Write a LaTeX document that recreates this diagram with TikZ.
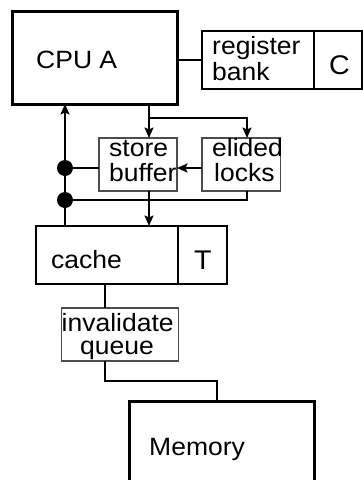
\documentclass[tikz,border=0pt]{standalone}
\usepackage{fontspec}
\setmainfont{Liberation Sans}[FakeStretch=1.06]
\usetikzlibrary{arrows.meta}
\begin{document}
\begin{tikzpicture}[x=1pt,y=-1pt,
  thickbox/.style={draw, line width=3pt, inner sep=0pt, outer sep=0pt},
  midbox/.style={draw, line width=1.8pt, inner sep=0pt, outer sep=0pt},
  thinbox/.style={draw=black!70, line width=1.2pt, inner sep=0pt, outer sep=0pt},
  lbl/.style={anchor=base west, inner sep=0pt, font=\fontsize{25}{25}\selectfont},
  biglbl/.style={lbl, font=\fontsize{27}{27}\selectfont},
  wire/.style={line width=1.8pt},
  arr/.style={wire, -{Stealth[length=10.5pt,width=9pt,inset=2pt]}},
  junction/.style={circle, fill, inner sep=0pt, minimum size=16pt},
]
\useasboundingbox (0,0) rectangle (363,480);

% boxes
\node[thickbox, minimum width=165pt, minimum height=93pt] (cpu) at (94.5,57.5) {};
\node[midbox, minimum width=160pt, minimum height=58pt] (reg) at (282,60) {};
\node[thinbox, minimum width=78pt, minimum height=53pt] (store) at (138,164.5) {};
\node[thinbox, minimum width=78.5pt, minimum height=53pt] (elided) at (241.25,164.5) {};
\node[midbox, minimum width=191pt, minimum height=58pt] (cache) at (131.5,255) {};
\node[thinbox, minimum width=117pt, minimum height=53pt] (inval) at (120,334.5) {};
\node[thickbox, minimum width=185pt, minimum height=100pt] (memory) at (221.5,451) {};

% dividers
\coordinate (regdiv) at (314,0);
\coordinate (cachediv) at (178,0);
\draw[line width=1.8pt] (reg.north -| regdiv) -- (reg.south -| regdiv);
\draw[line width=1.8pt] (cache.north -| cachediv) -- (cache.south -| cachediv);

% connector columns
\coordinate (col1) at (149,0);
\coordinate (col2) at (247,0);
\coordinate (colL) at (65,0);
\coordinate (colQ) at (105,0);
\coordinate (colM) at (217,0);
\coordinate (split) at (149,118);

% connectors
\draw[wire] (reg.west) -- (reg.west -| cpu.east);
\draw[arr] (col1 |- cpu.south) -- (col1 |- store.north);
\draw[arr] (split) -| (col2 |- elided.north);
\draw[arr] (elided.west |- 0,168) -- (store.east |- 0,168);
\node[junction] (j1) at (65,168) {};
\node[junction] (j2) at (65,200) {};
\draw[wire] (j1) -- (j1 -| store.west);
\draw[wire] (j2) -| (col2 |- elided.south);
\draw[arr] (colL |- cache.north) -- (colL |- cpu.south);
\draw[arr] (col1 |- store.south) -- (col1 |- cache.north);
\draw[wire] (colQ |- cache.south) -- (colQ |- inval.north);
\draw[wire] (colQ |- inval.south) |- (colM |- 0,381) -- (colM |- memory.north);

% labels
\node[lbl] (tcpu) at (36,68) {CPU A};
\node[lbl] (treg1) at (212,54) {register};
\node[lbl] (treg2) at (212,80) {bank};
\node[biglbl] (tc) at (329,74.5) {C};
\node[lbl] (ts1) at (109,156.5) {store};
\node[lbl] (ts2) at (109,181.5) {buffer};
\node[lbl] (te1) at (212,156.5) {elided};
\node[lbl] (te2) at (214,181.5) {locks};
\node[lbl] (tcache) at (51,268) {cache};
\node[biglbl] (tt) at (194,269) {T};
\node[lbl] (ti1) at (61.5,331) {invalidate};
\node[lbl] (ti2) at (80,354.5) {queue};
\node[lbl] (tmem) at (149,455) {Memory};
\end{tikzpicture}
\end{document}
